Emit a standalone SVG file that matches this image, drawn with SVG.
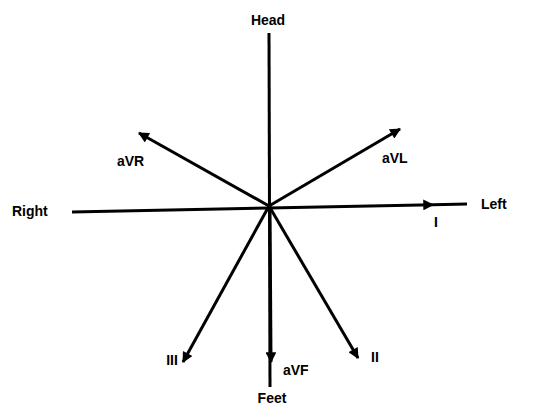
<svg xmlns="http://www.w3.org/2000/svg" width="536" height="409" viewBox="0 0 536 409">
<style>
.ax{stroke:#000;stroke-width:3;fill:none;stroke-linecap:butt}
.lb{font-family:"Liberation Sans",Arial,sans-serif;font-weight:bold;font-size:14px;fill:#000}
</style>
<defs>
<marker id="ah" viewBox="0 0 10 10" refX="9" refY="5" markerWidth="5" markerHeight="3.6" orient="auto" markerUnits="strokeWidth">
<path d="M0,0 L10,5 L0,10 z" fill="#000"/>
</marker>
</defs>
<rect width="536" height="409" fill="#fff"/>
<g id="connectors">
<line class="ax" x1="269" y1="33" x2="270" y2="387"/>
<line class="ax" x1="72" y1="212" x2="269" y2="208"/>
<line class="ax" x1="269" y1="208" x2="433" y2="204.7" marker-end="url(#ah)"/>
<line class="ax" x1="433" y1="204.7" x2="467" y2="204"/>
<line class="ax" x1="269" y1="206" x2="139" y2="133" marker-end="url(#ah)"/>
<line class="ax" x1="269" y1="206" x2="400" y2="129" marker-end="url(#ah)"/>
<line class="ax" x1="269" y1="206" x2="183" y2="362" marker-end="url(#ah)"/>
<line class="ax" x1="269" y1="206" x2="358" y2="358" marker-end="url(#ah)"/>
<line class="ax" x1="270" y1="206" x2="271" y2="362" marker-end="url(#ah)"/>
</g>
<g id="head"><text class="lb" x="268" y="25" text-anchor="middle">Head</text></g>
<g id="right"><text class="lb" x="12" y="216">Right</text></g>
<g id="left"><text class="lb" x="481" y="209">Left</text></g>
<g id="aVR"><text class="lb" x="117" y="166">aVR</text></g>
<g id="aVL"><text class="lb" x="382" y="163">aVL</text></g>
<g id="I"><text class="lb" x="436" y="227" text-anchor="middle">I</text></g>
<g id="II"><text class="lb" x="375" y="362" text-anchor="middle">II</text></g>
<g id="III"><text class="lb" x="172" y="365" text-anchor="middle">III</text></g>
<g id="aVF"><text class="lb" x="283" y="375">aVF</text></g>
<g id="feet"><text class="lb" x="272" y="403" text-anchor="middle">Feet</text></g>
</svg>
